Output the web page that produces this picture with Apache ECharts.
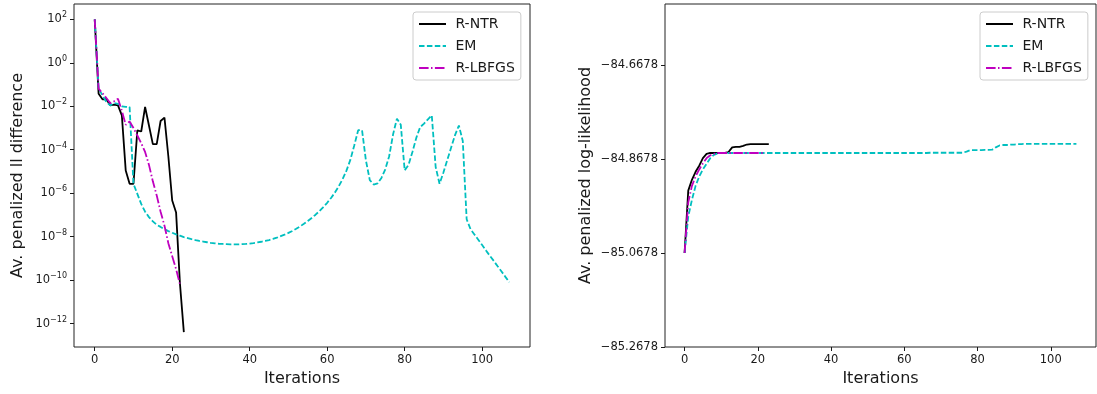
<!DOCTYPE html>
<html>
<head>
<meta charset="utf-8">
<script src="https://cdn.jsdelivr.net/npm/echarts@6/dist/echarts.min.js"></script>
<style>
html,body{margin:0;padding:0;background:#fff;}
#chart{width:1097px;height:394px;}
</style>
</head>
<body>
<div id="chart"></div>
<script>
// ---- data ----
const seriesNames = ['R-NTR', 'EM', 'R-LBFGS'];

// Left panel: average penalized ll difference (log scale)
const diffRNTR = [100, 3.8e-2, 2.1e-2, 2.1e-2, 1.1e-2, 1.2e-2, 1.1e-2, 3.8e-3, 1.1e-5, 2.7e-6,
  2.7e-6, 7.8e-4, 6.9e-4, 9.3e-3, 1.3e-3, 1.8e-4, 1.8e-4, 2.1e-3, 3.0e-3, 5.0e-5,
  4.6e-7, 1.3e-7, 6.8e-11, 4.0e-13];
const diffEM = [100, 6.5e-2, 3.2e-2, 1.6e-2, 1.1e-2, 1.4e-2, 1.3e-2, 1.0e-2, 9.3e-3, 9.3e-3,
  2.7e-6, 9.3e-7, 3.2e-7, 1.4e-7, 7.9e-8, 5.0e-8, 3.5e-8, 2.8e-8, 2.2e-8, 1.8e-8,
  1.5e-8, 1.26e-8, 1.1e-8, 9.5e-9, 8.5e-9, 7.6e-9, 6.9e-9, 6.3e-9, 5.9e-9, 5.5e-9,
  5.1e-9, 4.9e-9, 4.7e-9, 4.6e-9, 4.5e-9, 4.4e-9, 4.4e-9, 4.4e-9, 4.5e-9, 4.6e-9,
  4.8e-9, 5.0e-9, 5.4e-9, 5.8e-9, 6.3e-9, 6.9e-9, 7.8e-9, 8.9e-9, 1.05e-8, 1.23e-8,
  1.48e-8, 1.82e-8, 2.3e-8, 2.95e-8, 3.9e-8, 5.2e-8, 7.2e-8, 1.02e-7, 1.5e-7, 2.3e-7,
  3.6e-7, 6.0e-7, 1.07e-6, 2.1e-6, 4.5e-6, 1.12e-5, 3.5e-5, 1.6e-4, 7.9e-4, 7.9e-4,
  3.2e-5, 4.0e-6, 2.5e-6, 2.8e-6, 5.0e-6, 1.26e-5, 5.0e-5, 5.0e-4, 2.7e-3, 1.4e-3,
  1.12e-5, 2.0e-5, 7.9e-5, 3.5e-4, 1.1e-3, 1.6e-3, 2.5e-3, 3.8e-3, 1.6e-5, 2.7e-6,
  8.9e-6, 3.4e-5, 1.26e-4, 4.7e-4, 1.3e-3, 2.5e-4, 6.3e-8, 2.2e-8, 1.26e-8, 7.2e-9,
  4.1e-9, 2.3e-9, 1.3e-9, 7.6e-10, 4.3e-10, 2.5e-10, 1.4e-10, 7.9e-11];
const diffRLBFGS = [100, 6.5e-2, 4.0e-2, 2.4e-2, 1.4e-2, 1.7e-2, 2.2e-2, 6.3e-3, 1.4e-3, 2.0e-3,
  1.0e-3, 4.5e-4, 2.0e-4, 7.9e-5, 2.0e-5, 3.5e-6, 7.9e-7, 1.4e-7, 3.2e-8, 5.0e-9,
  1.26e-9, 3.2e-10, 6.3e-11];

// Right panel: average penalized log-likelihood
const llRNTR = [-85.0678, -84.935, -84.912, -84.895, -84.882, -84.866, -84.857, -84.855, -84.855, -84.855,
  -84.855, -84.855, -84.853, -84.843, -84.842, -84.842, -84.840, -84.837, -84.836, -84.836,
  -84.836, -84.836, -84.836, -84.836];
const llEM = [-85.0678, -84.99, -84.955, -84.925, -84.905, -84.89, -84.878, -84.866, -84.859, -84.856,
  -84.855, -84.855, -84.855, -84.855, -84.855, -84.855, -84.855, -84.855, -84.855, -84.855,
  -84.855, -84.855, -84.855, -84.855, -84.855, -84.855, -84.855, -84.855, -84.855, -84.855,
  -84.855, -84.855, -84.855, -84.855, -84.855, -84.855, -84.855, -84.855, -84.855, -84.855,
  -84.855, -84.855, -84.855, -84.855, -84.855, -84.855, -84.855, -84.855, -84.855, -84.855,
  -84.855, -84.855, -84.855, -84.855, -84.855, -84.855, -84.855, -84.855, -84.855, -84.855,
  -84.855, -84.855, -84.855, -84.855, -84.855, -84.855, -84.855, -84.8545, -84.8545, -84.8545,
  -84.8545, -84.8545, -84.8545, -84.8545, -84.8545, -84.8545, -84.8545, -84.852, -84.849, -84.849,
  -84.849, -84.849, -84.8485, -84.8485, -84.848, -84.843, -84.839, -84.838, -84.838, -84.837,
  -84.837, -84.836, -84.836, -84.8357, -84.8357, -84.8357, -84.8357, -84.8357, -84.8357, -84.8357,
  -84.8357, -84.8357, -84.8357, -84.8357, -84.8357, -84.8357, -84.8357, -84.8357];
const llRLBFGS = [-85.0678, -84.96, -84.925, -84.905, -84.89, -84.877, -84.866, -84.86, -84.857, -84.855,
  -84.855, -84.855, -84.855, -84.855, -84.855, -84.855, -84.855, -84.855, -84.855, -84.855,
  -84.855, -84.855, -84.855];

// tick values
const xTicks = [0, 20, 40, 60, 80, 100];
const leftYTicks = [1e-12, 1e-10, 1e-8, 1e-6, 1e-4, 1e-2, 1e0, 1e2];
const rightYTicks = [-85.2678, -85.0678, -84.8678, -84.6678];

// ---- chart ----
const FONT = 'DejaVu Sans';
const TXT = '#1a1a1a';
const colors = {'R-NTR': '#000000', 'EM': '#00bfbf', 'R-LBFGS': '#bf00bf'};
const dashes = {'R-NTR': 'solid', 'EM': [5.5, 2.4], 'R-LBFGS': [9.6, 2.4, 1.5, 2.4]};

function toPairs(arr) { return arr.map((v, i) => [i, v]); }
function mkSeries(name, arr, idx) {
  return {
    name: name, type: 'line', xAxisIndex: idx, yAxisIndex: idx,
    data: toPairs(arr), symbol: 'none', showSymbol: false, smooth: false,
    lineStyle: {color: colors[name], width: 1.8, type: dashes[name]},
    itemStyle: {color: colors[name]},
    emphasis: {disabled: true}, z: 3
  };
}
function sup(v) {
  const e = Math.round(Math.log10(v));
  return '{b|10}{s|' + String(e).replace('-', '\u2212') + '}';
}
const xAxisBase = (gi) => ({
  type: 'value', gridIndex: gi, min: -5.35, max: 112.35,
  name: 'Iterations', nameLocation: 'middle', nameGap: 24,
  nameTextStyle: {fontFamily: FONT, fontSize: 16, color: TXT},
  axisLine: {show: false, onZero: false},
  axisTick: {show: true, length: 4, customValues: xTicks, lineStyle: {color: TXT, width: 1}},
  axisLabel: {customValues: xTicks, fontFamily: FONT, fontSize: 11.5, color: TXT, margin: 7},
  splitLine: {show: false}
});
const legendBase = (left) => ({
  orient: 'vertical', left: left, top: 12, data: seriesNames,
  itemWidth: 27, itemHeight: 14, itemGap: 8,
  padding: [5, 6, 5, 5],
  backgroundColor: 'rgba(255,255,255,0.8)', borderColor: '#cccccc', borderWidth: 1, borderRadius: 3,
  itemStyle: {opacity: 0, borderWidth: 0},
  formatter: (name) => ' ' + name,
  textStyle: {fontFamily: FONT, fontSize: 14, color: TXT},
  selectedMode: false
});

const option = {
  animation: false,
  backgroundColor: '#ffffff',
  grid: [
    {left: 74, top: 4, width: 456, height: 343, show: true, borderColor: '#222', borderWidth: 1, backgroundColor: 'transparent'},
    {left: 665, top: 4, width: 431, height: 343, show: true, borderColor: '#222', borderWidth: 1, backgroundColor: 'transparent'}
  ],
  xAxis: [xAxisBase(0), xAxisBase(1)],
  yAxis: [
    {
      type: 'log', logBase: 10, gridIndex: 0, min: 8.3e-14, max: 510,
      name: 'Av. penalized ll difference', nameLocation: 'middle', nameGap: 48,
      nameTextStyle: {fontFamily: FONT, fontSize: 16, color: TXT},
      axisLine: {show: false, onZero: false},
      axisTick: {show: true, length: 4, customValues: leftYTicks, lineStyle: {color: TXT, width: 1}},
      axisLabel: {
        customValues: leftYTicks, margin: 7, formatter: sup,
        rich: {
          b: {fontFamily: FONT, fontSize: 11.5, color: TXT, lineHeight: 16, verticalAlign: 'middle'},
          s: {fontFamily: FONT, fontSize: 8, color: TXT, lineHeight: 10, verticalAlign: 'top'}
        }
      },
      splitLine: {show: false}, minorTick: {show: false}
    },
    {
      type: 'value', gridIndex: 1, min: -85.2678, max: -84.538,
      name: 'Av. penalized log-likelihood', nameLocation: 'middle', nameGap: 71,
      nameTextStyle: {fontFamily: FONT, fontSize: 16, color: TXT},
      axisLine: {show: false, onZero: false},
      axisTick: {show: true, length: 4, customValues: rightYTicks, lineStyle: {color: TXT, width: 1}},
      axisLabel: {
        customValues: rightYTicks, margin: 7, fontFamily: FONT, fontSize: 11.5, color: TXT,
        formatter: (v) => Number(v).toFixed(4).replace('-', '\u2212')
      },
      splitLine: {show: false}
    }
  ],
  legend: [legendBase(413), legendBase(980)],
  series: [
    mkSeries('R-NTR', diffRNTR, 0),
    mkSeries('EM', diffEM, 0),
    mkSeries('R-LBFGS', diffRLBFGS, 0),
    mkSeries('R-NTR', llRNTR, 1),
    mkSeries('EM', llEM, 1),
    mkSeries('R-LBFGS', llRLBFGS, 1)
  ]
};
const chart = echarts.init(document.getElementById('chart'), null, {renderer: 'canvas'});
chart.setOption(option);
</script>
</body>
</html>
